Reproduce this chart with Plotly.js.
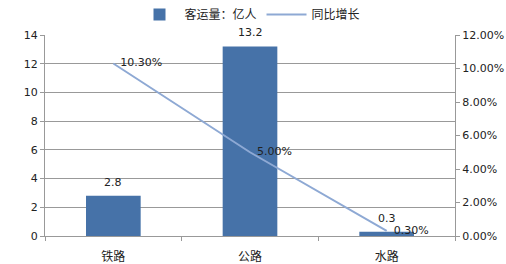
<!DOCTYPE html>
<html><head><meta charset="utf-8">
<script src="https://cdn.plot.ly/plotly-3.0.1.min.js"></script>
<style>body{margin:0;background:#fff}#c{width:506px;height:264px}</style>
</head><body><div id="c"></div>
<script>
var categories = ['铁路', '公路', '水路'];
var passengers = [2.8, 13.2, 0.3];
var growth = [0.103, 0.05, 0.003];
var barName = '客运量：亿人';
var lineName = '同比增长';

var font = {family: 'DejaVu Sans, "Noto Sans CJK SC", sans-serif', size: 11, color: '#222'};
var traces = [
  {type: 'bar', x: categories, y: passengers, name: barName,
   marker: {color: '#4672A8'}, width: 0.4},
  {type: 'scatter', mode: 'lines+text', x: categories, y: growth, yaxis: 'y2', name: lineName,
   line: {color: '#8EA9D4', width: 2},
   text: growth.map(function(v){return '  ' + (v*100).toFixed(2)+'%';}),
   textposition: 'middle right', cliponaxis: false, textfont: font}
];
var annotations = categories.map(function(c, i){
  return {x: c, y: passengers[i], xref: 'x', yref: 'y', text: String(passengers[i]),
          showarrow: false, yanchor: 'bottom', yshift: 5, font: font};
});
var layout = {
  width: 506, height: 264,
  margin: {l: 45, r: 51, t: 35, b: 28},
  paper_bgcolor: '#fff', plot_bgcolor: '#fff',
  font: font,
  showlegend: true,
  annotations: annotations,
  legend: {orientation: 'h', x: 0.5, xanchor: 'center', y: 1, yref: 'container', yanchor: 'top',
           itemwidth: 40,
           font: {family: '"Noto Sans CJK SC", sans-serif', size: 12, color: '#222'}},
  xaxis: {showline: true, linecolor: '#999', ticks: 'outside', tickson: 'boundaries', ticklen: 4, tickcolor: '#999',
          ticklabelstandoff: 10,
          showgrid: false, tickfont: {family: '"Noto Sans CJK SC", sans-serif', size: 12, color: '#222'}},
  yaxis: {range: [0, 14], dtick: 2, showline: true, linecolor: '#999', ticks: 'outside', ticklen: 4, tickcolor: '#999',
          gridcolor: '#999', zeroline: false},
  yaxis2: {overlaying: 'y', side: 'right', range: [0, 0.12], dtick: 0.02, tickformat: '.2%',
           showline: true, linecolor: '#999', ticks: 'outside', ticklen: 4, tickcolor: '#999',
           showgrid: false, zeroline: false}
};
Plotly.newPlot('c', traces, layout, {displayModeBar: false});
</script></body></html>
